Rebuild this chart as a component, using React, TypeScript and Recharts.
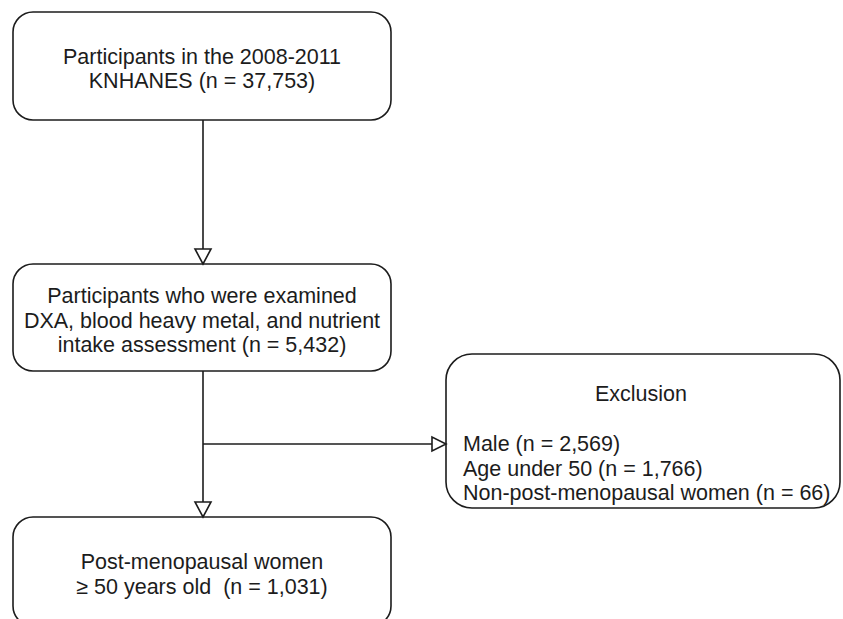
import React from "react";
import { ComposedChart, XAxis, YAxis, ReferenceArea, ReferenceLine, ReferenceDot } from "recharts";

// ---- content ----
const STEP_LINES: string[][] = [
  ["Participants in the 2008-2011", "KNHANES (n = 37,753)"],
  ["Participants who were examined", "DXA, blood heavy metal, and nutrient", "intake assessment (n = 5,432)"],
  ["Post-menopausal women", "\u2265 50 years old  (n = 1,031)"],
];
const EXCLUSION_TITLE = "Exclusion";
const EXCLUSION_ITEMS = ["Male (n = 2,569)", "Age under 50 (n = 1,766)", "Non-post-menopausal women (n = 66)"];

// ---- layout in diagram units ----
const STEP_X = [13, 391];
const STEP_Y: number[][] = [
  [12, 120],
  [264, 371],
  [517, 626],
];
const EXCL_X = [446, 840];
const EXCL_Y = [354, 508];
const TRUNK_X = 203;
const BRANCH_Y = 444;
const ARROW_TIPS_DOWN = [264, 517];
const ARROW_TIP_RIGHT = 446;

const W = 843;
const H = 619;
const FONT = "'Liberation Sans', Arial, Helvetica, sans-serif";
const INK = "#1c1c1c";
const FS = 21.5;
const LH = 24.5;

const txtStyle: React.CSSProperties = { whiteSpace: "pre" };

const boxShape = (lines: string[]) => (p: any) => {
  const { x, y, width, height } = p;
  const cx = x + width / 2;
  const cy = y + height / 2 + 3;
  const start = cy - ((lines.length - 1) * LH) / 2;
  return (
    <g>
      <rect x={x} y={y} width={width} height={height} rx={20} ry={20} fill="#fff" stroke={INK} strokeWidth={1.6} />
      {lines.map((t, i) => (
        <text key={i} x={cx} y={start + i * LH} textAnchor="middle" dominantBaseline="central" fontSize={FS} fontFamily={FONT} fill={INK} style={txtStyle}>
          {t}
        </text>
      ))}
    </g>
  );
};

const exclShape = (p: any) => {
  const { x, y, width, height } = p;
  return (
    <g>
      <rect x={x} y={y} width={width} height={height} rx={26} ry={26} fill="#fff" stroke={INK} strokeWidth={1.6} />
      <text x={x + width / 2 - 2} y={y + 40} textAnchor="middle" dominantBaseline="central" fontSize={FS} fontFamily={FONT} fill={INK}>
        {EXCLUSION_TITLE}
      </text>
      {EXCLUSION_ITEMS.map((t, i) => (
        <text key={i} x={x + 17} y={y + 90 + i * LH} textAnchor="start" dominantBaseline="central" fontSize={FS} fontFamily={FONT} fill={INK}>
          {t}
        </text>
      ))}
    </g>
  );
};

const downArrow = (p: any) => {
  const { cx, cy } = p;
  return <path d={`M${cx - 8},${cy - 15} L${cx + 8},${cy - 15} L${cx},${cy} Z`} fill="#fff" stroke={INK} strokeWidth={1.6} strokeLinejoin="miter" />;
};
const rightArrow = (p: any) => {
  const { cx, cy } = p;
  return <path d={`M${cx - 14},${cy - 7} L${cx - 14},${cy + 7} L${cx},${cy} Z`} fill="#fff" stroke={INK} strokeWidth={1.6} />;
};

export default function App() {
  return (
    <div style={{ position: "absolute", left: 0, top: 0, width: W, height: H, background: "#fff" }}>
      <ComposedChart width={W} height={H} margin={{ top: 0, right: 0, bottom: 0, left: 0 }}>
        <XAxis type="number" dataKey="x" domain={[0, W]} hide allowDataOverflow />
        <YAxis type="number" dataKey="y" domain={[0, H]} reversed hide allowDataOverflow width={0} />
        {/* connectors */}
        <ReferenceLine segment={[{ x: TRUNK_X, y: STEP_Y[0][1] }, { x: TRUNK_X, y: ARROW_TIPS_DOWN[0] - 15 }]} stroke={INK} strokeWidth={1.6} ifOverflow="visible" />
        <ReferenceLine segment={[{ x: TRUNK_X, y: STEP_Y[1][1] }, { x: TRUNK_X, y: ARROW_TIPS_DOWN[1] - 15 }]} stroke={INK} strokeWidth={1.6} ifOverflow="visible" />
        <ReferenceLine segment={[{ x: TRUNK_X, y: BRANCH_Y }, { x: ARROW_TIP_RIGHT - 14, y: BRANCH_Y }]} stroke={INK} strokeWidth={1.6} ifOverflow="visible" />
        {/* boxes */}
        {STEP_LINES.map((lines, i) => (
          <ReferenceArea
            key={i}
            x1={STEP_X[0]}
            x2={STEP_X[1]}
            y1={STEP_Y[i][0]}
            y2={STEP_Y[i][1]}
            ifOverflow="visible"
            shape={boxShape(lines)}
          />
        ))}
        <ReferenceArea x1={EXCL_X[0]} x2={EXCL_X[1]} y1={EXCL_Y[0]} y2={EXCL_Y[1]} ifOverflow="visible" shape={exclShape} />
        {/* arrowheads */}
        {ARROW_TIPS_DOWN.map((tip, i) => (
          <ReferenceDot key={i} x={TRUNK_X} y={tip} ifOverflow="visible" shape={downArrow} />
        ))}
        <ReferenceDot x={ARROW_TIP_RIGHT} y={BRANCH_Y} ifOverflow="visible" shape={rightArrow} />
      </ComposedChart>
    </div>
  );
}
